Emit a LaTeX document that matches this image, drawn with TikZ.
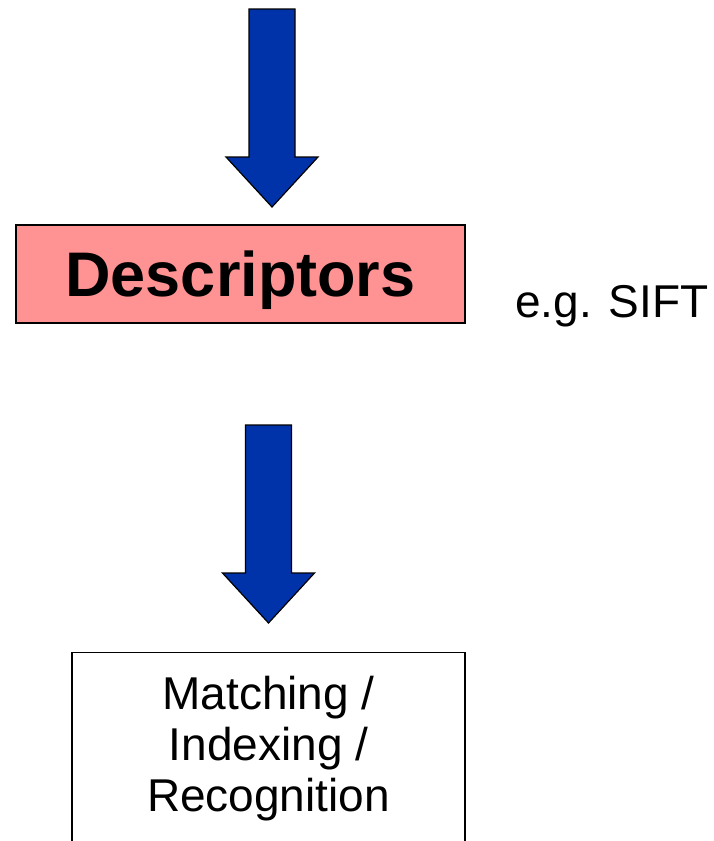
\documentclass[tikz,border=0pt]{standalone}
\usepackage{fontspec}
\setmainfont{Liberation Sans}
\usepackage{tikz}
\usetikzlibrary{calc}
\definecolor{arrowblue}{RGB}{0,51,170}
\definecolor{descpink}{RGB}{255,146,146}
\tikzset{blockarrow/.style={fill=arrowblue, draw=black, line width=1.2pt, line join=miter}}
\tikzset{stagebox/.style={draw=black, line width=1.2pt, inner sep=0}}
\tikzset{bigfont/.style={font=\fontsize{46}{51}\selectfont}}

\begin{document}
\begin{tikzpicture} [x=1pt,y=-1pt]
\useasboundingbox (0,0) rectangle (713,841);
\foreach \cx/\ty in {272/9, 268.5/425} {
  \filldraw[blockarrow] (\cx-23,\ty)--++(0,148)--++(-23,0)--(\cx,\ty+198)--(\cx+46,\ty+148)--++(-23,0)--++(0,-148)--cycle;
}
\node[stagebox, fill=descpink, minimum width=449pt, minimum height=98pt, text height=45pt, text depth=0pt,
  font=\fontsize{63}{70}\selectfont\bfseries] (desc) at (240.5,274) {Descriptors};
\node[bigfont, anchor=base west, inner sep=0] (sift) at (515,317) {e.g. SIFT};
\node[stagebox, minimum width=393pt, minimum height=300pt, anchor=north] (match) at (268.5,652) {};
\node[bigfont, align=center, anchor=north, inner sep=0] (matchtxt) at (268.5,676) {Matching /\\Indexing /\\Recognition};
\end{tikzpicture}
\end{document}
